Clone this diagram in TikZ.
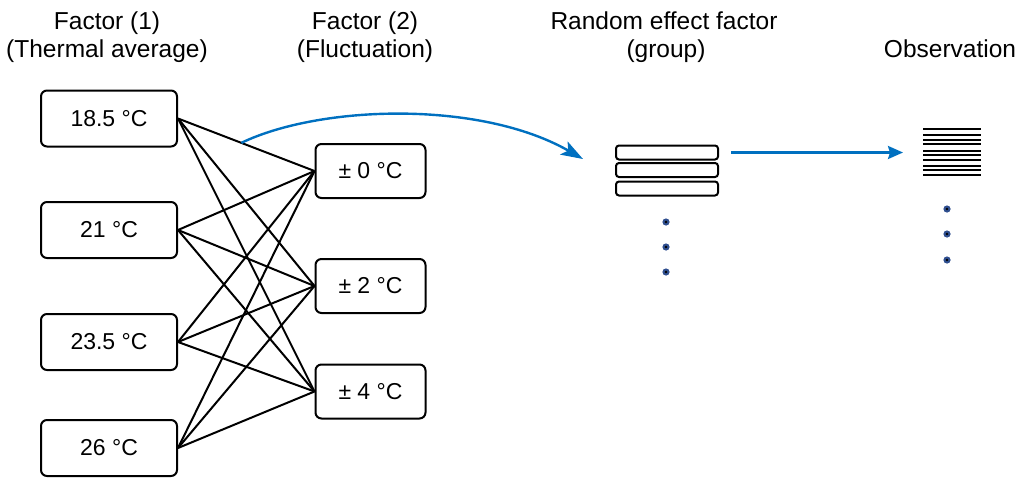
\documentclass[tikz,border=0pt]{standalone}
\usepackage{fontspec}
\setmainfont{Liberation Sans}
\usetikzlibrary{arrows.meta}
\definecolor{arrowblue}{HTML}{0070C0}
\definecolor{dotblue}{HTML}{2F4F8F}
\tikzset{
  txt/.style={font=\fontsize{23}{28}\selectfont},
  level/.style={txt, draw, line width=2pt, rounded corners=6pt, inner sep=0pt},
  leftbox/.style={level, minimum width=136pt, minimum height=56pt},
  rightbox/.style={level, minimum width=110pt, minimum height=54pt},
  grp/.style={draw, line width=2pt, rounded corners=3pt, minimum width=102pt, minimum height=14pt, inner sep=0pt},
  link/.style={line width=2pt},
  flow/.style={draw=arrowblue, line width=2.4pt},
  title/.style={font=\fontsize{24.5}{29}\selectfont, anchor=base, align=center},
}
\newcommand{\vdot}[1]{\fill[dotblue] (#1) circle (3.6pt); \fill[black] (#1) circle (1.4pt);}
\begin{document}
\begin{tikzpicture}[x=1pt, y=-1pt]
\useasboundingbox (0,0) rectangle (1018,477);

% column headings
\node[title] (h1a) at (107,29) {Factor (1)};
\node[title] (h1b) at (107,57) {(Thermal average)};
\node[title] (h2a) at (365,29) {Factor (2)};
\node[title] (h2b) at (365,57) {(Fluctuation)};
\node[title] (h3a) at (664,29) {Random effect factor};
\node[title] (h3b) at (666,57) {(group)};
\node[title] (h4a) at (950,57) {Observation};

% factor (1) levels
\node[leftbox] (t1) at (109,118.5) {18.5 °C};
\node[leftbox] (t2) at (109,230) {21 °C};
\node[leftbox] (t3) at (109,342) {23.5 °C};
\node[leftbox] (t4) at (109,448) {26 °C};

% factor (2) levels
\node[rightbox] (f1) at (370.5,171) {± 0 °C};
\node[rightbox] (f2) at (370.5,286) {± 2 °C};
\node[rightbox] (f3) at (370.5,391.5) {± 4 °C};

% full crossing of the two factors
\foreach \a in {t1,t2,t3,t4}{
  \foreach \b in {f1,f2,f3}{
    \draw[link] (\a.east) -- (\b.west);
  }
}

% groups
\node[grp] (g1) at (667,152.5) {};
\node[grp] (g2) at (667,170) {};
\node[grp] (g3) at (667,188.5) {};
\vdot{666,222}
\vdot{666,247}
\vdot{666,272}

% observations
\foreach \y in {128.7,135.3,140,144.3,151,155.3,159.7,166,170.3,174.7}{
  \draw[line width=2pt] (923,\y) -- (981,\y);
}
\coordinate (obs) at (903,152.5);
\vdot{947,209}
\vdot{947,234}
\vdot{947,260}

% arrows
\path (t1.east) -- (f1.west) coordinate[pos=0.464] (cs);
\coordinate (ce) at (583,159);
\draw[flow, -{Stealth[length=22pt,width=15pt,inset=5pt]}] (cs) .. controls (320,105) and (480,100) .. (ce);
\coordinate (gs) at (731,152.5);
\draw[flow, -{Stealth[length=15pt,width=13pt,inset=2pt]}] (gs) -- (obs);
\end{tikzpicture}
\end{document}
